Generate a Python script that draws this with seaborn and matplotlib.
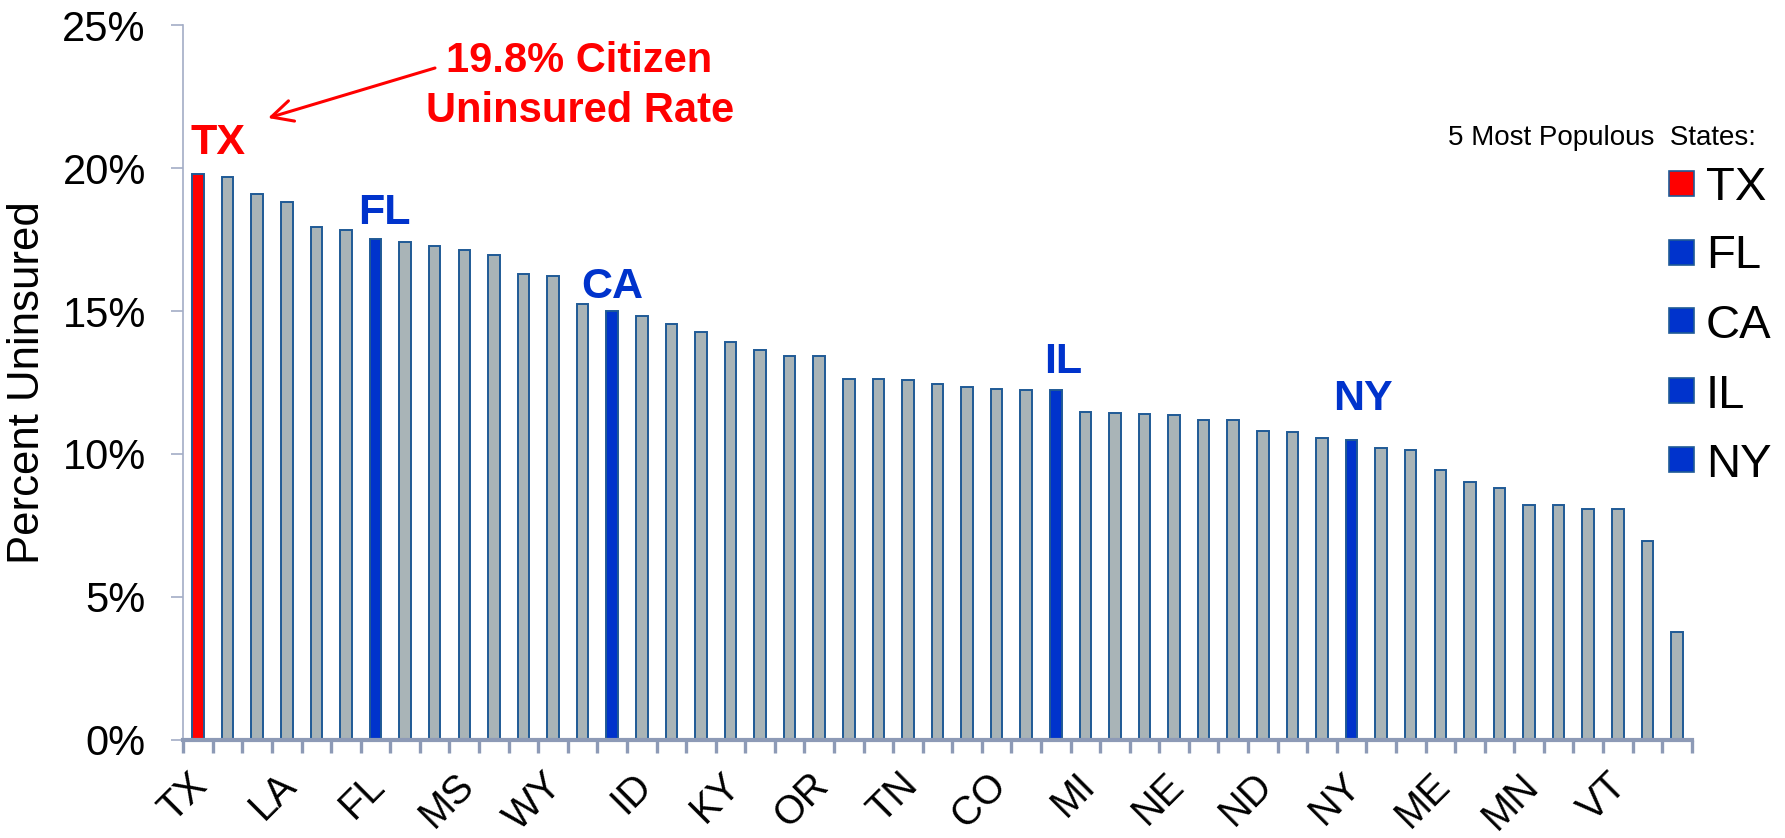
import matplotlib
matplotlib.use("Agg")
import matplotlib.pyplot as plt
import matplotlib.transforms as mtransforms
import seaborn as sns
import pandas as pd
from matplotlib.patches import Rectangle

# ---------------- data ----------------
states = ["TX", "NM", "OK", "LA", "AR", "NV", "FL", "GA", "SC", "MS",
          "AZ", "AK", "WY", "NC", "CA", "ID", "WV", "MT", "KY", "UT",
          "AL", "OR", "IN", "SD", "TN", "DC", "DE", "CO", "MO", "IL",
          "MI", "KS", "NJ", "NE", "VA", "OH", "ND", "WA", "WI", "NY",
          "IA", "NH", "ME", "CT", "RI", "MN", "PA", "MD", "VT", "HI", "MA"]
pct_uninsured = [19.81, 19.69, 19.11, 18.81, 17.94, 17.84, 17.52, 17.41, 17.29, 17.13,
                 16.95, 16.29, 16.23, 15.24, 15.00, 14.82, 14.55, 14.27, 13.91, 13.63,
                 13.43, 13.43, 12.63, 12.61, 12.58, 12.45, 12.35, 12.26, 12.25, 12.23,
                 11.47, 11.43, 11.38, 11.36, 11.19, 11.19, 10.80, 10.77, 10.56, 10.48,
                 10.22, 10.15, 9.43, 9.01, 8.80, 8.20, 8.20, 8.06, 8.06, 6.96, 3.76]
populous = ["TX", "FL", "CA", "IL", "NY"]
shown_labels = states[::3]
y_ticks = [0, 5, 10, 15, 20, 25]

RED = "#FF0000"
BLUE = "#0033CC"
GRAY = "#A9B4B7"
EDGE = "#1F5A96"
AXC = "#8D9AB6"

group = ["TX" if s == "TX" else ("big" if s in populous else "other") for s in states]
df = pd.DataFrame({"state": states, "pct": pct_uninsured, "group": group})

sns.set_theme(style="white")
plt.rcParams["font.family"] = ["Liberation Sans", "DejaVu Sans"]
plt.rcParams["text.color"] = "black"
plt.rcParams["axes.labelcolor"] = "black"
plt.rcParams["xtick.labelcolor"] = "black"
plt.rcParams["ytick.labelcolor"] = "black"

W, H = 1785, 838
fig = plt.figure(figsize=(W / 100, H / 100), dpi=100)
ax = fig.add_axes([183.3 / W, 1 - 739.5 / H, 1508.4 / W, 714 / H])

sns.barplot(data=df, x="state", y="pct", hue="group", order=states,
            palette={"TX": RED, "big": BLUE, "other": GRAY},
            dodge=False, width=0.39, edgecolor=EDGE, linewidth=1.4,
            legend=False, ax=ax, saturation=1)

ax.set_xlim(-0.5, len(states) - 0.5)
ax.set_ylim(0, 25)
ax.set_yticks(y_ticks)
ax.set_yticklabels([f"{v}%" for v in y_ticks], fontsize=30, color="black")
ax.set_ylabel("Percent Uninsured", fontsize=31.5, labelpad=10, color="black")
ax.set_xlabel("")

for s in ["top", "right"]:
    ax.spines[s].set_visible(False)
ax.spines["left"].set_color("#A3ADC6")
ax.spines["left"].set_linewidth(1.2)
ax.spines["bottom"].set_color(AXC)
ax.spines["bottom"].set_linewidth(3.0)
ax.spines["left"].set_zorder(0)

ax.tick_params(axis="y", which="major", direction="out", length=9, width=1.2,
               color="#A3ADC6", pad=18, left=True)

# boundary ticks (major) without labels, labels on minor ticks at bar centres
ax.set_xticks([i - 0.5 for i in range(len(states) + 1)])
ax.set_xticklabels([])
ax.set_xticks([states.index(s) for s in shown_labels], minor=True)
ax.set_xticklabels(shown_labels, minor=True, fontsize=28.5, rotation=45,
                   ha="right", va="top", rotation_mode="anchor", color="black")
ax.tick_params(axis="x", which="major", direction="out", length=9.5, width=2.4,
               color=AXC, bottom=True)
ax.tick_params(axis="x", which="minor", length=0, pad=19, bottom=True)
shift = mtransforms.ScaledTranslation(-10 / 100, 0, fig.dpi_scale_trans)
for lab in ax.get_xticklabels(minor=True):
    lab.set_transform(lab.get_transform() + shift)

# bar annotations for populous states
label_dx = {"TX": 0.66, "FL": 0.3, "CA": 0.0, "IL": 0.25, "NY": 0.4}
label_y = {"TX": 20.50, "FL": 18.05, "CA": 15.46, "IL": 12.83, "NY": 11.54}
for s in populous:
    i = states.index(s)
    ax.text(i + label_dx[s], label_y[s], s, ha="center", va="baseline",
            fontsize=31, fontweight="bold", color=RED if s == "TX" else BLUE)

# callout text and arrow
fig.text(579 / W, 1 - 71.7 / H, "19.8% Citizen", ha="center", va="baseline",
         fontsize=30, fontweight="bold", color=RED)
fig.text(580.5 / W, 1 - 121.7 / H, "Uninsured Rate", ha="center", va="baseline",
         fontsize=30, fontweight="bold", color=RED)
ax.annotate("", xy=(268, H - 118), xycoords="figure pixels",
            xytext=(435, H - 68), textcoords="figure pixels",
            arrowprops=dict(arrowstyle="->", color=RED, lw=2.2,
                            mutation_scale=38, shrinkA=0, shrinkB=0))

# legend
fig.text(1756 / W, 1 - 145 / H, "5 Most Populous  States:", ha="right",
         va="baseline", fontsize=20, color="black")
sq_top = [171, 240, 308, 378, 447]
base = [200, 268, 338, 408, 477]
for s, t, b in zip(populous, sq_top, base):
    fig.patches.append(Rectangle((1669 / W, 1 - (t + 25) / H), 25 / W, 25 / H,
                                 transform=fig.transFigure, facecolor=RED if s == "TX" else BLUE,
                                 edgecolor=EDGE, linewidth=1.2))
    fig.text(1706 / W, 1 - b / H, s, ha="left", va="baseline", fontsize=34, color="black")

fig.savefig("out.png", dpi=100, facecolor="white")
